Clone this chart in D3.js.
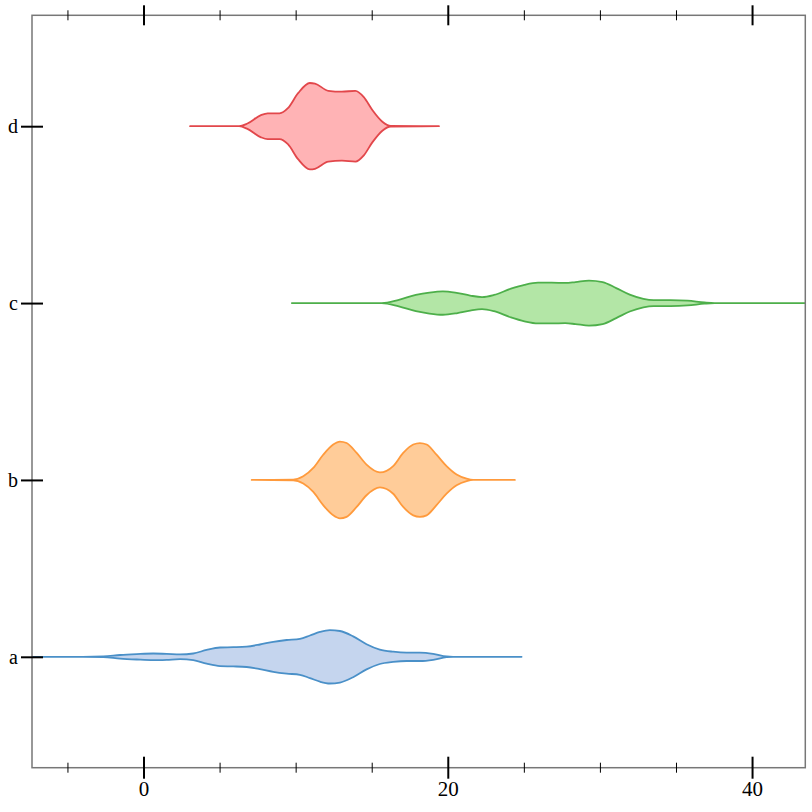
<!DOCTYPE html>
<html>
<head>
<meta charset="utf-8">
<script src="https://cdn.jsdelivr.net/npm/d3@7"></script>
<style>
  html, body { margin: 0; padding: 0; background: #fff; }
  svg { display: block; }
</style>
</head>
<body>
<svg id="chart" width="812" height="812"></svg>
<script>
// ---- data ----
const categories = ["a", "b", "c", "d"];
const xMajorTicks = [0, 20, 40];
const xMinorTicks = [-5, 5, 10, 15, 25, 30, 35];

// [value, density] pairs per category
const densityA = [[-8.0,0],[-4.0,0],[-2.64,0.001],[-1.54,0.006],[-0.45,0.009],[0.64,0.011],[1.52,0.010],[2.40,0.008],[3.27,0.011],[4.15,0.023],[5.03,0.031],[5.90,0.032],[6.78,0.034],[7.65,0.041],[8.53,0.050],[9.41,0.056],[10.28,0.060],[10.94,0.071],[11.60,0.083],[12.25,0.089],[12.91,0.086],[13.78,0.068],[14.66,0.042],[15.53,0.024],[16.41,0.017],[17.29,0.014],[18.17,0.014],[19.04,0.010],[19.92,0.001],[20.35,0],[24.85,0]];
const densityB = [[7.11,0],[9.84,0.001],[10.50,0.012],[11.16,0.040],[11.81,0.084],[12.47,0.118],[12.91,0.128],[13.35,0.123],[14.01,0.090],[14.66,0.051],[15.54,0.025],[16.41,0.046],[17.07,0.090],[17.73,0.118],[18.17,0.123],[18.61,0.118],[19.26,0.084],[19.92,0.046],[20.58,0.018],[21.24,0.004],[21.67,0],[24.41,0]];
const densityC = [[9.75,0],[15.66,0],[16.78,0.011],[17.90,0.027],[18.79,0.035],[19.68,0.039],[20.58,0.034],[21.47,0.025],[22.25,0.020],[23.04,0.027],[24.15,0.048],[25.04,0.061],[25.93,0.068],[26.83,0.068],[27.72,0.067],[28.39,0.070],[29.28,0.075],[30.18,0.070],[31.07,0.050],[31.96,0.028],[32.86,0.014],[33.53,0.010],[34.64,0.010],[35.76,0.008],[36.87,0.002],[37.54,0],[44.0,0]];
const densityD = [[3.06,0],[6.28,0],[6.83,0.009],[7.72,0.037],[8.16,0.043],[8.94,0.043],[9.49,0.060],[10.16,0.110],[10.93,0.144],[11.27,0.142],[12.15,0.118],[13.04,0.115],[13.93,0.118],[14.48,0.097],[15.04,0.054],[15.70,0.015],[16.25,0.001],[19.42,0]];

const strokeColors = ["#4a90c8", "#ff9a3c", "#4daf4a", "#e2474b"];
const fillColors = ["#c5d5ee", "#ffcc99", "#b3e6a6", "#ffb3b5"];

// ---- layout ----
const svg = d3.select("#chart");
const plotLeft = 32, plotRight = 805.3, plotTop = 15.3, plotBottom = 767.7;

const x = d3.scaleLinear().domain([-7.33, 43.5]).range([plotLeft, plotRight]);
const y = d3.scalePoint().domain(categories).range([plotBottom, plotTop]).padding(0.627);
const w = d3.scaleLinear().domain([0, 0.15]).range([0, 45]);

svg.append("defs").append("clipPath").attr("id", "plotclip")
  .append("rect").attr("x", plotLeft).attr("y", plotTop)
  .attr("width", plotRight - plotLeft).attr("height", plotBottom - plotTop);

const series = [densityA, densityB, densityC, densityD];

const g = svg.append("g").attr("clip-path", "url(#plotclip)");
series.forEach((pts, i) => {
  const cy = y(categories[i]);
  const area = d3.area()
    .x(d => x(d[0]))
    .y0(d => cy + Math.max(0, w(d[1])))
    .y1(d => cy - Math.max(0, w(d[1])))
    .curve(d3.curveMonotoneX);
  g.append("path")
    .datum(pts)
    .attr("d", area)
    .attr("fill", fillColors[i])
    .attr("stroke", strokeColors[i])
    .attr("stroke-width", 1.8)
    .attr("stroke-linejoin", "round");
});

// frame
svg.append("rect")
  .attr("x", plotLeft).attr("y", plotTop)
  .attr("width", plotRight - plotLeft).attr("height", plotBottom - plotTop)
  .attr("fill", "none").attr("stroke", "#777").attr("stroke-width", 1.5);

const font = "'Liberation Serif', 'Times New Roman', serif";

function crossTicks(sel, len, width) {
  sel.select(".domain").remove();
  sel.selectAll(".tick line")
    .attr("y1", -len).attr("y2", len)
    .attr("stroke", "#000").attr("stroke-width", width);
}

// bottom axis
const bMajor = svg.append("g").attr("transform", `translate(0,${plotBottom})`)
  .call(d3.axisBottom(x).tickValues(xMajorTicks).tickFormat(d3.format("d")).tickSize(11).tickPadding(4));
crossTicks(bMajor, 11, 2);
bMajor.selectAll(".tick text")
  .attr("y", 28).attr("dy", 0)
  .style("font-family", font).style("font-size", "21px").attr("fill", "#000");

const bMinor = svg.append("g").attr("transform", `translate(0,${plotBottom})`)
  .call(d3.axisBottom(x).tickValues(xMinorTicks).tickFormat("").tickSize(5));
crossTicks(bMinor, 5, 1);

// top axis
const tMajor = svg.append("g").attr("transform", `translate(0,${plotTop})`)
  .call(d3.axisTop(x).tickValues(xMajorTicks).tickFormat("").tickSize(10));
crossTicks(tMajor, 10, 2);
const tMinor = svg.append("g").attr("transform", `translate(0,${plotTop})`)
  .call(d3.axisTop(x).tickValues(xMinorTicks).tickFormat("").tickSize(5));
crossTicks(tMinor, 5, 1);

// left axis
const lAxis = svg.append("g").attr("transform", `translate(${plotLeft},0)`)
  .call(d3.axisLeft(y).tickSize(11).tickPadding(4));
lAxis.select(".domain").remove();
lAxis.selectAll(".tick line")
  .attr("x1", -11).attr("x2", 11)
  .attr("stroke", "#000").attr("stroke-width", 2);
lAxis.selectAll(".tick text")
  .attr("x", -14).attr("dy", "0.32em")
  .style("font-family", font).style("font-size", "20px").attr("fill", "#000");
</script>
</body>
</html>
